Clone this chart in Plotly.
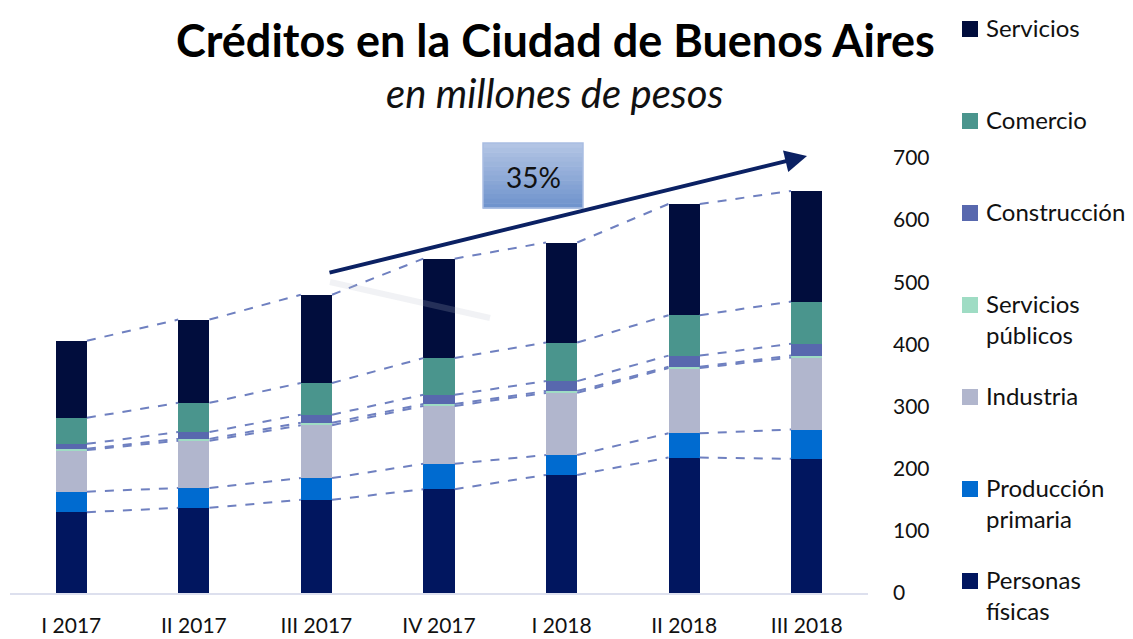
import plotly.graph_objects as go

# ---------------- data ----------------
quarters = ["I 2017", "II 2017", "III 2017", "IV 2017", "I 2018", "II 2018", "III 2018"]
personas_fisicas = [130, 137, 150, 167, 190, 218, 216]
produccion_primaria = [33, 32, 35, 41, 32, 39, 47]
industria = [67, 76, 85, 93, 100, 105, 116]
servicios_publicos = [2, 3, 4, 3, 3, 2, 3]
construccion = [8, 11, 13, 15, 16, 18, 19]
comercio = [42, 47, 51, 59, 62, 65, 68]
servicios = [124, 134, 142, 160, 161, 179, 178]
y_ticks = [0, 100, 200, 300, 400, 500, 600, 700]
growth_label = "35%"

series = [
    ("Personas físicas", personas_fisicas, "#01165f"),
    ("Producción primaria", produccion_primaria, "#006bd0"),
    ("Industria", industria, "#b1b6cd"),
    ("Servicios públicos", servicios_publicos, "#9fdcc4"),
    ("Construcción", construccion, "#5868ae"),
    ("Comercio", comercio, "#4a958d"),
    ("Servicios", servicios, "#010d3d"),
]
legend_labels = {
    "Servicios públicos": "Servicios<br>públicos",
    "Producción primaria": "Producción<br>primaria",
    "Personas físicas": "Personas<br>físicas",
}

# ---------------- layout geometry ----------------
W, H = 1133, 639
L, R, T, B = 10, 868, 158, 593
BAR_W = 0.255
FONT = "Lato"

def px_x(p):
    return (p - L) / (R - L)

def px_y(p):
    return (B - p) / (B - T)

x_pos = list(range(len(quarters)))
fig = go.Figure()

# bars
for name, vals, col in series:
    fig.add_trace(go.Bar(
        x=x_pos, y=vals, name=name, width=BAR_W,
        marker=dict(color=col, line=dict(width=0)),
        showlegend=False,
    ))

# dashed connector lines at the top of each segment
cum = [0] * len(quarters)
for name, vals, col in series:
    cum = [c + v for c, v in zip(cum, vals)]
    xs, ys = [], []
    for i in range(len(quarters) - 1):
        xs += [i + BAR_W / 2, i + 1 - BAR_W / 2, None]
        ys += [cum[i], cum[i + 1], None]
    fig.add_trace(go.Scatter(
        x=xs, y=ys, mode="lines", showlegend=False, hoverinfo="skip",
        line=dict(color="#6f80c0", width=2, dash="dash"),
    ))

shapes = []
annotations = []

# title
annotations.append(dict(text="<b>Créditos en la Ciudad de Buenos Aires</b>", xref="paper", yref="paper",
                        x=px_x(555), y=px_y(40), xanchor="center", yanchor="middle", showarrow=False,
                        font=dict(family=FONT, size=45, color="#000")))
annotations.append(dict(text="<i>en millones de pesos</i>", xref="paper", yref="paper",
                        x=px_x(555), y=px_y(93), xanchor="center", yanchor="middle", showarrow=False,
                        font=dict(family=FONT, size=40, color="#111")))

# legend (manual)
legend_order = ["Servicios", "Comercio", "Construcción", "Servicios públicos", "Industria",
                "Producción primaria", "Personas físicas"]
colors = {n: c for n, _, c in series}
for k, name in enumerate(legend_order):
    cy = 29 + k * 92
    shapes.append(dict(type="rect", xref="paper", yref="paper",
                       x0=px_x(962), x1=px_x(978), y0=px_y(cy - 8), y1=px_y(cy + 8),
                       fillcolor=colors[name], line=dict(width=0)))
    annotations.append(dict(text=legend_labels.get(name, name), xref="paper", yref="paper",
                            x=px_x(984), y=px_y(cy - 18), xanchor="left", yanchor="top",
                            align="left", showarrow=False,
                            font=dict(family=FONT, size=24, color="#111")))

# growth arrow shadow
shapes.append(dict(type="line", xref="paper", yref="paper",
                   x0=px_x(330), y0=px_y(282), x1=px_x(490), y1=px_y(318),
                   line=dict(color="rgba(185,188,205,0.2)", width=6)))
# growth arrow
annotations.append(dict(text="", xref="paper", yref="paper", x=px_x(807), y=px_y(156),
                        ax=328 - 807, ay=273 - 156, showarrow=True, arrowhead=2, arrowsize=1.1,
                        arrowwidth=4, arrowcolor="#0b2163", standoff=0))

# percentage box with vertical gradient
x0b, x1b, y0b, y1b = 483, 583, 143, 208
n = 14
c_top = (178, 196, 228)
c_bot = (112, 148, 205)
for s in range(n):
    t = s / (n - 1)
    c = tuple(int(c_top[j] + (c_bot[j] - c_top[j]) * t) for j in range(3))
    ya = y0b + (y1b - y0b) * s / n
    yb = y0b + (y1b - y0b) * (s + 1) / n
    shapes.append(dict(type="rect", xref="paper", yref="paper",
                       x0=px_x(x0b), x1=px_x(x1b), y0=px_y(ya), y1=px_y(yb + 0.5),
                       fillcolor="rgb(%d,%d,%d)" % c, line=dict(width=0)))
shapes.append(dict(type="rect", xref="paper", yref="paper",
                   x0=px_x(x0b), x1=px_x(x1b), y0=px_y(y0b), y1=px_y(y1b),
                   fillcolor="rgba(0,0,0,0)", line=dict(color="#a9bde2", width=1.5)))
annotations.append(dict(text=growth_label, xref="paper", yref="paper",
                        x=px_x(533), y=px_y(177), xanchor="center", yanchor="middle", showarrow=False,
                        font=dict(family=FONT, size=28, color="#111")))

fig.update_layout(
    width=W, height=H,
    margin=dict(l=L, r=W - R, t=T, b=H - B, autoexpand=False),
    barmode="stack",
    bargap=0,
    plot_bgcolor="white", paper_bgcolor="white",
    shapes=shapes, annotations=annotations,
    showlegend=False,
    xaxis=dict(range=[-0.5, 6.5], tickvals=x_pos, ticktext=quarters, showgrid=False,
               zeroline=False, showline=True, linecolor="#dde0ee", linewidth=2,
               ticks="", ticklabelstandoff=13,
               tickfont=dict(family=FONT, size=21, color="#111"), fixedrange=True),
    yaxis=dict(range=[0, 700], side="right", tickvals=y_ticks, showgrid=False, zeroline=False,
               showline=False, ticks="", ticklabelstandoff=24,
               tickfont=dict(family=FONT, size=21, color="#111"), fixedrange=True),
)

fig.write_html("out.html", config={"displayModeBar": False},
               post_script="document.body.style.margin='0';document.body.style.overflow='hidden';")
